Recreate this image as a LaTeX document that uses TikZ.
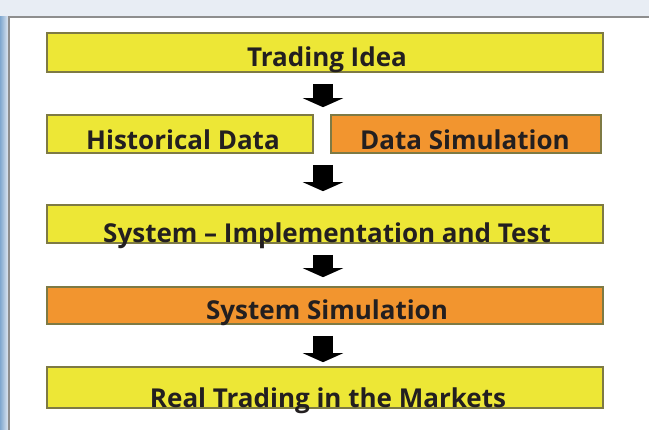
\documentclass[tikz,border=0pt]{standalone}
\usepackage{fontspec}
\setmainfont{Open Sans}
\usetikzlibrary{arrows.meta,calc}
\definecolor{ideaYellow}{HTML}{EDE736}
\definecolor{simOrange}{HTML}{F2952F}
\definecolor{boxEdge}{HTML}{7E7A44}
\definecolor{inkText}{HTML}{231F20}
\definecolor{pageTint}{HTML}{E8EDF4}
\definecolor{edgeBlue}{HTML}{7FA7CF}
\definecolor{frameGrey}{HTML}{8E8E8E}

\begin{document}
\begin{tikzpicture}[
  x=1pt, y=-1pt,
  stage/.style={rectangle, draw=boxEdge, line width=1.6pt, inner sep=0pt},
  yel/.style={stage, fill=ideaYellow},
  org/.style={stage, fill=simOrange},
  txt/.style={anchor=base, inner sep=0pt, text=inkText, font=\fontsize{26}{31}\selectfont\bfseries},
  flow/.style={line width=20pt, -{Triangle[width=40pt 0, length=9pt 0]}}
]
\useasboundingbox (0,0) rectangle (649,430);
% page and panel
\fill[pageTint] (0,0) rectangle (649,430);
\shade[left color=edgeBlue, right color=pageTint] (0,17) rectangle (9,430);
\clip (0,0) rectangle (649,430);
\draw[frameGrey, line width=1.5pt, fill=white] (9,17) rectangle (660,440);
% boxes
\node[yel, minimum width=556pt, minimum height=39pt] (idea) at (325,52.5) {};
\node[yel, minimum width=266pt, minimum height=38pt] (hist) at (180,134) {};
\node[org, minimum width=270pt, minimum height=38pt] (dsim) at (466,134) {};
\node[yel, minimum width=556pt, minimum height=38pt] (impl) at (325,224) {};
\node[org, minimum width=556pt, minimum height=37pt] (ssim) at (325,305.5) {};
\node[yel, minimum width=556pt, minimum height=41pt] (real) at (325,387.5) {};
% labels sit low in the boxes
\node[txt] (ideaT) at ($(idea.south)+(2,-6)$) {Trading Idea};
\node[txt] (histT) at ($(hist.south)+(3,-4)$) {Historical Data};
\node[txt] (dsimT) at ($(dsim.south)+(-1,-4)$) {Data Simulation};
\node[txt] (implT) at ($(impl.south)+(2,-1)$) {System – Implementation and Test};
\node[txt] (ssimT) at ($(ssim.south)+(2,-5)$) {System Simulation};
\node[txt] (realT) at ($(real.south)+(3,-1)$) {Real Trading in the Markets};
% arrows
\draw[flow] ($(idea.south)+(-2,11)$) -- ($(idea.south |- hist.north)+(-2,-7)$);
\draw[flow] ($(idea.south |- hist.south)+(-2,11)$) -- ($(impl.north)+(-2,-13)$);
\draw[flow] ($(impl.south)+(-2,11)$) -- ($(ssim.north)+(-2,-9)$);
\draw[flow] ($(ssim.south)+(-2,11)$) -- ($(real.north)+(-2,-4)$);
\end{tikzpicture}
\end{document}
